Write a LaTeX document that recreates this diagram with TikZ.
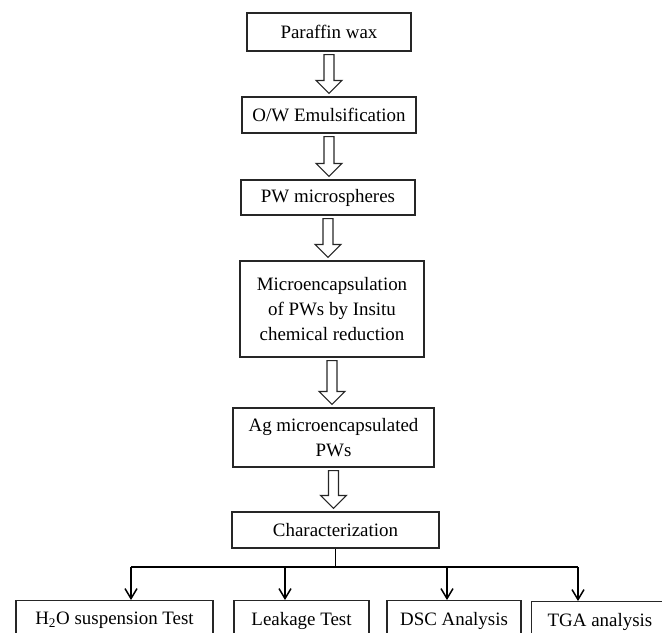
\documentclass[tikz,border=0pt]{standalone}
\usepackage{fontspec}
\setmainfont{Liberation Serif}
\usetikzlibrary{calc,arrows.meta}

\tikzset{
  box/.style={draw=black!85, line width=0.8pt, inner sep=0pt, align=center,
    font=\fontsize{14.2}{19}\selectfont},
  bus/.style={black, line width=1.1pt},
  tip/.style={bus, -{Straight Barb[length=7.5pt,width=9pt,line width=1.1pt]}},
}
% hollow block arrow from the bottom of #1 to the top of #2
\newcommand{\hollowarrow}[2]{%
  \draw[black!85, line width=0.8pt]
    ($(#1.south)+(-5,3)$) -- ($(#1.south |- #2.north)+(-5,-16)$)
    -- ($(#1.south |- #2.north)+(-13,-16)$) -- ($(#1.south |- #2.north)+(0,-3)$)
    -- ($(#1.south |- #2.north)+(13,-16)$) -- ($(#1.south |- #2.north)+(5,-16)$)
    -- ($(#1.south)+(5,3)$) -- cycle;}

\begin{document}
\begin{tikzpicture}[x=0.75pt,y=-0.75pt]
  \useasboundingbox (0,0) rectangle (662,633);
  \clip (0,0) rectangle (662,633);

  % main chain
  \node[box, minimum width=123pt, minimum height=28.5pt] (wax) at (329,32) {Paraffin wax};
  \node[box, minimum width=130.5pt, minimum height=27pt] (emul) at (329,115) {O/W Emulsification};
  \node[box, minimum width=130.5pt, minimum height=26.25pt] (spheres) at (328,197.5) {PW microspheres};
  \node[box, minimum width=138pt, minimum height=72pt] (encap) at (332,309)
    {Microencapsulation\\of PWs by Insitu\\chemical reduction};
  \node[box, minimum width=150.75pt, minimum height=44.25pt] (agpw) at (333.5,437.5)
    {Ag microencapsulated\\PWs};
  \node[box, minimum width=155.25pt, minimum height=27pt] (charac) at (335.5,530) {Characterization};

  \hollowarrow{wax}{emul}
  \hollowarrow{emul}{spheres}
  \hollowarrow{spheres}{encap}
  \hollowarrow{encap}{agpw}
  \hollowarrow{agpw}{charac}

  % tests (cut off at the bottom)
  \node[box, anchor=north, minimum width=147.75pt, minimum height=30pt] (water) at (114.5,600)
    {H\textsubscript{2}O suspension Test};
  \node[box, anchor=north, minimum width=101.25pt, minimum height=30pt] (leak) at (301.5,600) {Leakage Test};
  \node[box, anchor=north, minimum width=100.5pt, minimum height=30pt] (dsc) at (454,600) {DSC Analysis};
  \node[box, anchor=north, minimum width=103pt, minimum height=30pt] (tga) at (600,601) {TGA analysis};

  \coordinate (b1) at (131,567);
  \coordinate (b2) at (285,567);
  \coordinate (b3) at (447,567);
  \coordinate (b4) at (578,567);

  \draw[bus] (charac.south) -- (charac.south |- b1);
  \draw[bus] (b1) -- (b4);
  \draw[tip] (b1) -- (b1 |- water.north);
  \draw[tip] (b2) -- (b2 |- leak.north);
  \draw[tip] (b3) -- (b3 |- dsc.north);
  \draw[tip] (b4) -- (b4 |- tga.north);
\end{tikzpicture}
\end{document}
